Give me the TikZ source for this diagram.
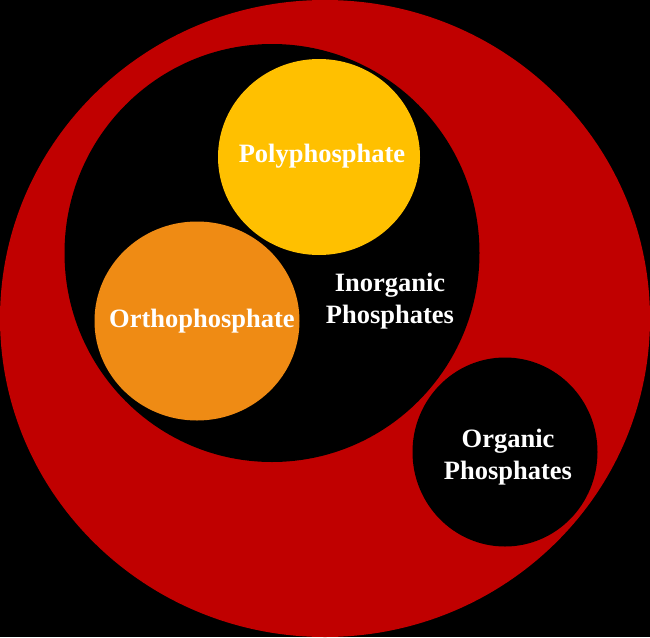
\documentclass[tikz,border=0pt]{standalone}
\usepackage{fontspec}
\setmainfont{Liberation Serif}
\usetikzlibrary{shapes.geometric}
\definecolor{phred}{HTML}{C00000}
\definecolor{polyyellow}{HTML}{FFC000}
\definecolor{orthoorange}{HTML}{EF8B14}
\begin{document}
\begin{tikzpicture}[x=1pt, y=-1pt, set node/.style={ellipse, inner sep=0pt, draw=none}, every node/.style={font=\bfseries\fontsize{26.5}{32}\selectfont, text=white, align=center}]
\fill [black] (0,0) rectangle (650,637);
\useasboundingbox (0,0) rectangle (650,637);
\node [set node, fill=phred, minimum width=650pt, minimum height=637pt] (phos) at (325,318.5) {};
\node [set node, fill=black, minimum width=415pt, minimum height=418pt] (inorg) at (272,253) {};
\node [set node, fill=black, minimum width=185pt, minimum height=189pt] (org) at (505,452) {};
\node [set node, fill=polyyellow, minimum width=202pt, minimum height=196pt] (poly) at (319,157) {};
\node [set node, fill=orthoorange, minimum width=205pt, minimum height=199pt] (ortho) at (197,321) {};
\node (polylabel) at (322,156) {Polyphosphate};
\node (ortholabel) at (202,321) {Orthophosphate};
\node (orglabel) at (508,457) {Organic\\Phosphates};
\node (inorglabel) at (390,301) {Inorganic\\Phosphates};
\node [text=phred] (phoslabel) at (560,307) {Phosphorus};
\end{tikzpicture}
\end{document}
